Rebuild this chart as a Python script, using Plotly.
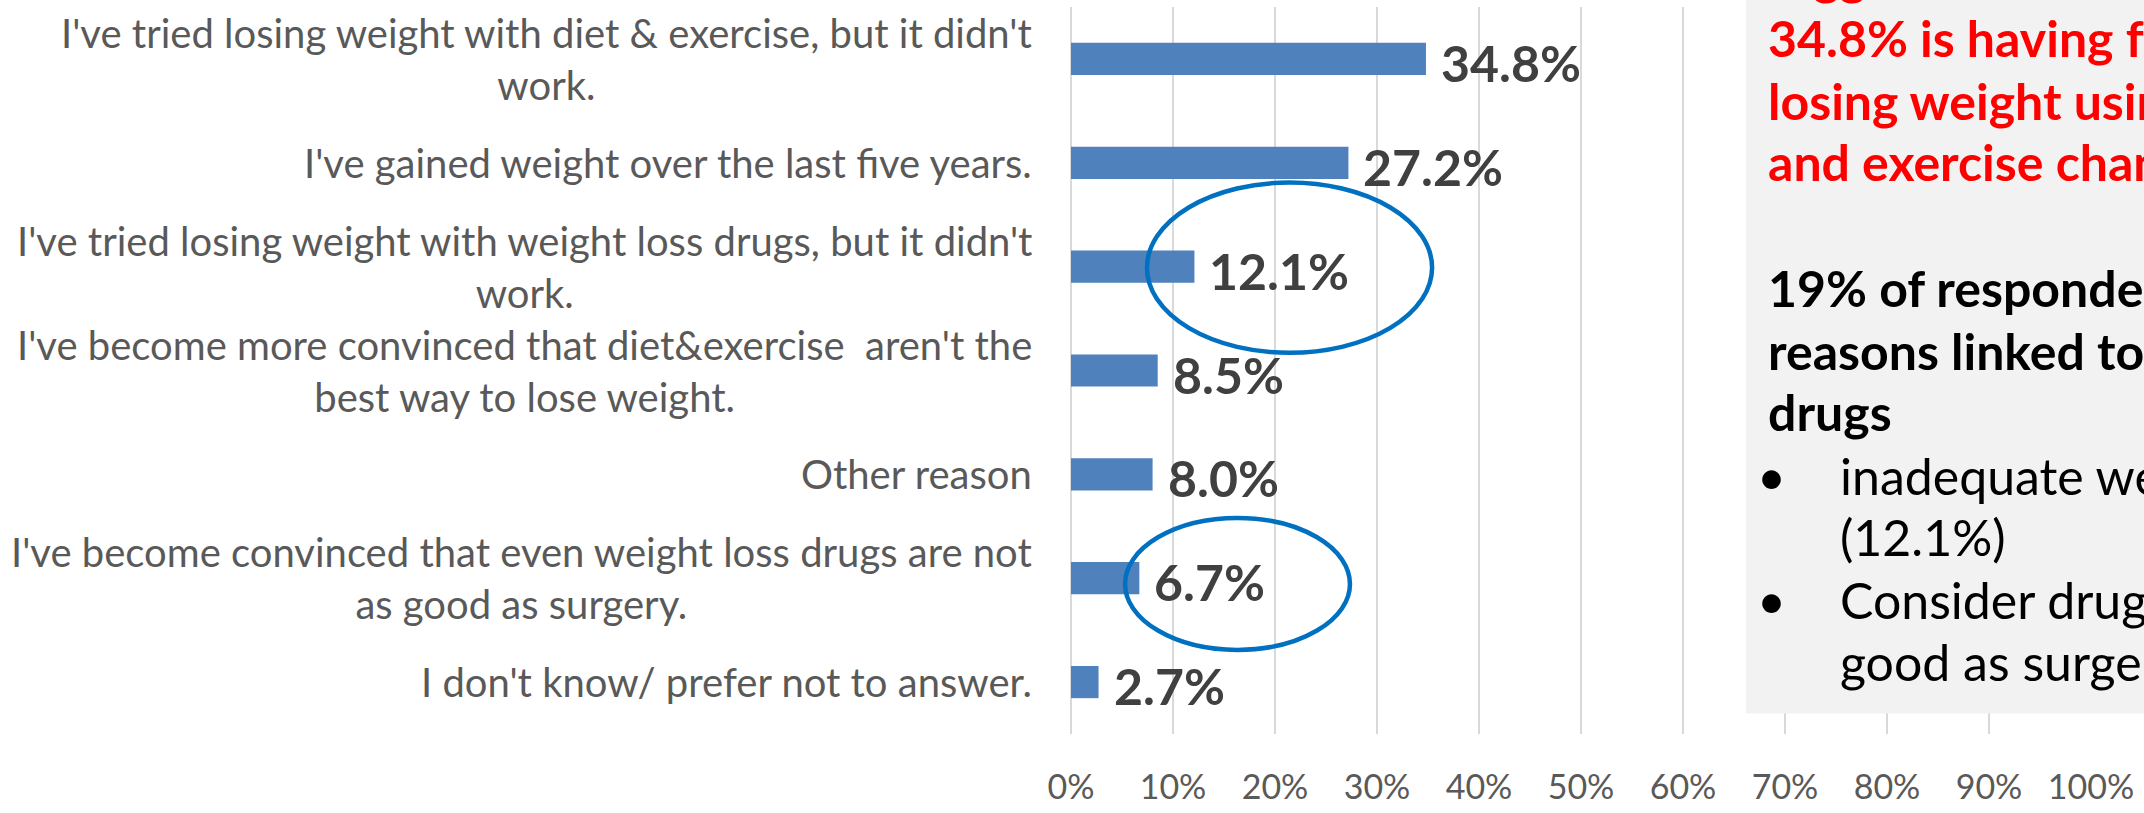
import plotly.graph_objects as go

# ---------------- data ----------------
categories = [
    "I've tried losing weight with diet & exercise, but it didn't<br>work.",
    "I've gained weight over the last five years.",
    "I've tried losing weight with weight loss drugs, but it didn't<br>work.",
    "I've become more convinced that diet&exercise\u00a0 aren't the<br>best way to lose weight.",
    "Other reason",
    "I've become convinced that even weight loss drugs are not<br>as good as surgery.",
    "I don't know/ prefer not to answer.",
]
values = [34.8, 27.2, 12.1, 8.5, 8.0, 6.7, 2.7]
tick_values = [0, 10, 20, 30, 40, 50, 60, 70, 80, 90, 100]
tick_labels = ["0%", "10%", "20%", "30%", "40%", "50%", "60%", "70%", "80%", "90%", "100%"]

red_lines = ["Biggest reason:", "34.8% is having failed", "losing weight using diet", "and exercise changes"]
black_lines = ["19% of respondents cite", "reasons linked to weight loss", "drugs"]
bullet_lines = [("\u2022", "inadequate weight loss"), ("", "(12.1%)"),
                ("\u2022", "Consider drugs not as"), ("", "good as surgery (6.7%)")]

# ---------------- layout constants ----------------
W, H = 2144, 813
L, R, T, B = 1071, 53, 7, 64
PW, PH = W - L - R, H - T - B
FONT = "Lato, 'Open Sans', sans-serif"
BAR = "#4F81BD"
GRID = "#D9D9D9"
LBL = "#595959"
DL = "#404040"
CIRC = "#0070C0"


def px_x(px):
    return (px - L) / PW


def px_y(py):
    return (H - B - py) / PH


fig = go.Figure()
fig.add_trace(go.Bar(
    y=categories, x=values, orientation="h",
    marker=dict(color=BAR, line=dict(width=0)),
    width=0.31, hoverinfo="skip", showlegend=False,
))

annotations = []
# category labels
for c in categories:
    annotations.append(dict(
        x=0, xref="paper", y=c, yref="y", text=c, showarrow=False,
        xanchor="right", yanchor="middle", align="center", xshift=-37,
        font=dict(family=FONT, size=40, color=LBL),
    ))
# data labels
for c, v in zip(categories, values):
    annotations.append(dict(
        x=v, xref="x", y=c, yref="y", text=f"<b>{v:.1f}%</b>", showarrow=False,
        xanchor="left", yanchor="middle", xshift=13, yshift=-4,
        font=dict(family=FONT, size=50, color=DL),
    ))

# text box content
FS = 50
TX = 1768
red_base = [-5, 58, 122, 185]
black_base = [313, 377, 440]
bullet_base = [505, 567, 632, 695]


def text_ann(txt, base, x, color, bold, anchor="left"):
    return dict(
        x=px_x(x), xref="paper", y=px_y(base - 0.387 * FS), yref="paper",
        text=f"<b>{txt}</b>" if bold else txt, showarrow=False,
        xanchor=anchor, yanchor="middle", xshift=-2,
        font=dict(family=FONT, size=FS, color=color),
    )


for t, b in zip(red_lines, red_base):
    annotations.append(text_ann(t, b, TX, "#FF0000", True))
for t, b in zip(black_lines, black_base):
    annotations.append(text_ann(t, b, TX, "#000000", True))
for (bul, t), b in zip(bullet_lines, bullet_base):
    if bul:
        annotations.append(text_ann(bul, b, 1773, "#000000", False, anchor="center"))
    annotations.append(text_ann(t, b, 1840, "#000000", False))

shapes = [
    dict(type="rect", xref="paper", yref="paper", x0=px_x(1746), x1=1.3,
         y0=px_y(728), y1=1.3, fillcolor="#F2F2F2", line=dict(width=0), layer="above"),
    dict(type="circle", xref="x", yref="y", x0=7.45, x1=35.4, y0=1.19, y1=2.83,
         line=dict(color=CIRC, width=4.5), fillcolor="rgba(0,0,0,0)", layer="above"),
    dict(type="circle", xref="x", yref="y", x0=5.3, x1=27.35, y0=4.42, y1=5.69,
         line=dict(color=CIRC, width=4.5), fillcolor="rgba(0,0,0,0)", layer="above"),
]

fig.update_layout(
    width=W, height=H,
    margin=dict(l=L, r=R, t=T, b=B, pad=0),
    paper_bgcolor="white", plot_bgcolor="white",
    font=dict(family=FONT, color=LBL),
    annotations=annotations, shapes=shapes,
    xaxis=dict(
        range=[0, 100], tickvals=tick_values, ticktext=tick_labels,
        showgrid=True, gridcolor=GRID, gridwidth=1.5,
        zeroline=True, zerolinecolor=GRID, zerolinewidth=1.5,
        showline=False, ticks="", ticklabelstandoff=30,
        tickfont=dict(family=FONT, size=34, color=LBL), fixedrange=True,
    ),
    yaxis=dict(
        categoryorder="array", categoryarray=categories,
        range=[6.5, -0.5], showticklabels=False, showgrid=False,
        zeroline=False, showline=False, ticks="", fixedrange=True,
    ),
    bargap=0.69,
)

fig.write_html("out.html", config={"displayModeBar": False},
               post_script="document.body.style.margin='0';document.body.style.overflow='hidden';")
